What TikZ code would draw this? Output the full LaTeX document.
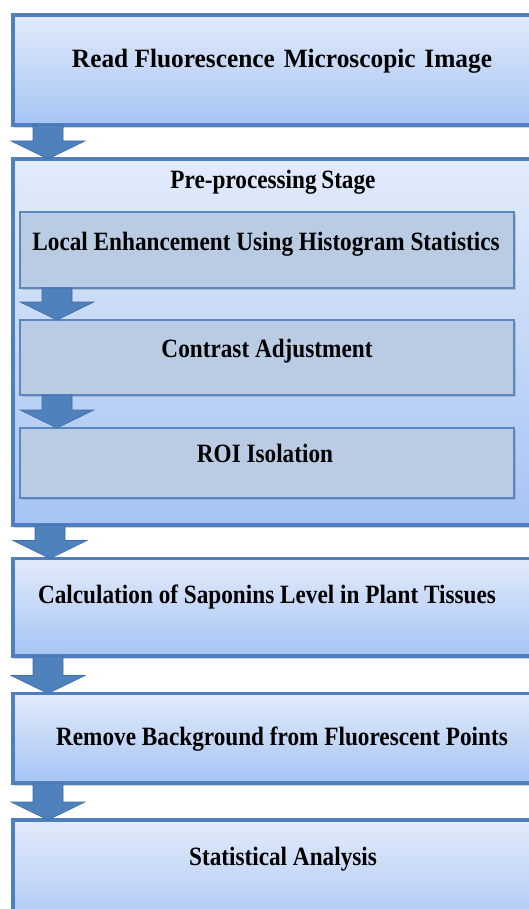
\documentclass[tikz,border=0pt]{standalone}
\usepackage{fontspec}
\usepackage{graphicx}
\setmainfont{Liberation Serif}
\usetikzlibrary{calc,shadows}

\definecolor{boxline}{HTML}{4F7FBF}
\definecolor{stagetop}{HTML}{E2EBFA}
\definecolor{stagebottom}{HTML}{A6C4F4}
\definecolor{subfill}{HTML}{B9CCE4}
\definecolor{subline}{HTML}{5A87C0}
\definecolor{arrowfill}{HTML}{4F81BD}
\definecolor{arrowline}{HTML}{3F6DA8}

% narrow bold text as in the boxes
\newcommand{\stagetext}[1]{\scalebox{0.88}[1]{#1}}

\tikzset{
  stagebox/.style={draw=boxline, line width=3.5pt, top color=stagetop,
    bottom color=stagebottom, anchor=north west, outer sep=0pt,
    inner sep=0pt, minimum width=540pt,
    drop shadow={shadow xshift=1pt, shadow yshift=-3pt, opacity=0.35}},
  substagebox/.style={draw=subline, line width=1.2pt, fill=subfill,
    anchor=north west, outer sep=0pt, inner sep=0pt, minimum width=494pt,
    drop shadow={shadow xshift=1.5pt, shadow yshift=-2pt, opacity=0.35}},
  boxtext/.style={font=\fontsize{26.4}{30}\selectfont\bfseries,
    inner sep=0pt, anchor=base},
  flowarrow/.style={fill=arrowfill, draw=arrowline, line width=0.6pt},
}

\begin{document}
\begin{tikzpicture}[x=1pt, y=-1pt]
  \useasboundingbox (0,0) rectangle (529,909);

  % main stages
  \node (read) [stagebox, minimum height=110pt] at (13,15) {};
  \node (pre) [stagebox, minimum height=366pt] at (13,159) {};
  \node (calc) [stagebox, minimum height=97.5pt] at (13,558.5) {};
  \node (remove) [stagebox, minimum height=89.5pt] at (13,693.5) {};
  \node (stats) [stagebox, minimum height=120pt] at (13,820) {};

  % pre-processing steps
  \node (local) [substagebox, minimum height=76pt] at (20,212) {};
  \node (contrast) [substagebox, minimum height=75pt] at (20,320) {};
  \node (roi) [substagebox, minimum height=70pt] at (20,428) {};

  % block arrows
  \foreach \a/\b/\dx in {read/pre/35, pre/calc/37, calc/remove/35,
      remove/stats/35, local/contrast/37, contrast/roi/37} {
    \coordinate (s) at ($(\a.south west)+(\dx,0)$);
    \coordinate (t) at (\b.north west -| s);
    \draw[flowarrow] ($(s)+(-15,0)$) -- ($(t)+(-15,-18)$)
      -- ($(t)+(-37,-18)$) -- (t) -- ($(t)+(37,-18)$)
      -- ($(t)+(15,-18)$) -- ($(s)+(15,0)$) -- cycle;
  }

  % labels
  \path node[boxtext] at (282,68)
    {\scalebox{0.96}[1]{Read Fluorescence\hspace{0.1em} Microscopic\hspace{0.1em} Image}};
  \path node[boxtext] at (273,189) {\stagetext{Pre-processing\hspace{-0.05em} Stage}};
  \path node[boxtext] at (266,250) {\stagetext{Local Enhancement Using Histogram Statistics}};
  \path node[boxtext] at (267,357) {\stagetext{Contrast Adjustment}};
  \path node[boxtext] at (265,462) {\stagetext{ROI Isolation}};
  \path node[boxtext] at (267,603) {\stagetext{Calculation of Saponins Level in Plant Tissues}};
  \path node[boxtext] at (282,745) {\stagetext{Remove Background from Fluorescent Points}};
  \path node[boxtext] at (283,865) {\stagetext{Statistical Analysis}};
\end{tikzpicture}
\end{document}
